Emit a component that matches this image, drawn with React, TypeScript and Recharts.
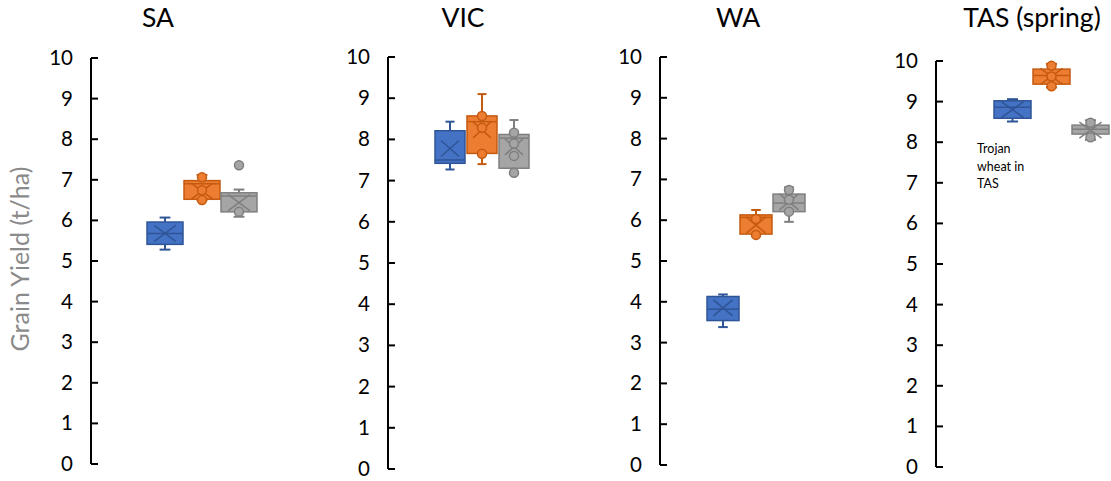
import { Bar, ComposedChart, XAxis, YAxis } from "recharts";

type Box = {
    low: number;
    q1: number;
    median: number;
    q3: number;
    high: number;
    mean: number;
    points: number[];
    outliers: number[];
};

// five-number summaries per region, one entry per cultivar (blue, orange, grey)
const saBoxes: Box[] = [
    { low: 5.28, q1: 5.41, median: 5.68, q3: 5.96, high: 6.07, mean: 5.68, points: [], outliers: [] },
    { low: 6.5, q1: 6.52, median: 6.9, q3: 6.98, high: 7.12, mean: 6.72, points: [6.5, 6.74, 7.06], outliers: [] },
    { low: 6.09, q1: 6.21, median: 6.6, q3: 6.68, high: 6.76, mean: 6.44, points: [6.21], outliers: [7.36] },
];

const vicBoxes: Box[] = [
    { low: 7.27, q1: 7.42, median: 7.5, q3: 8.21, high: 8.43, mean: 7.78, points: [], outliers: [] },
    { low: 7.4, q1: 7.66, median: 8.43, q3: 8.57, high: 9.1, mean: 8.23, points: [7.65, 8.28, 8.57], outliers: [] },
    { low: 7.19, q1: 7.3, median: 8.03, q3: 8.12, high: 8.47, mean: 7.82, points: [7.19, 7.6, 7.9, 8.16], outliers: [] },
];

const waBoxes: Box[] = [
    { low: 3.38, q1: 3.54, median: 3.82, q3: 4.13, high: 4.18, mean: 3.85, points: [], outliers: [] },
    { low: 5.64, q1: 5.66, median: 6.07, q3: 6.13, high: 6.25, mean: 5.88, points: [5.64, 6.03], outliers: [] },
    { low: 5.96, q1: 6.21, median: 6.42, q3: 6.64, high: 6.81, mean: 6.45, points: [6.21, 6.5, 6.74], outliers: [] },
];

const tasBoxes: Box[] = [
    { low: 8.51, q1: 8.59, median: 8.86, q3: 9.02, high: 9.06, mean: 8.8, points: [], outliers: [] },
    { low: 9.35, q1: 9.43, median: 9.64, q3: 9.8, high: 9.93, mean: 9.62, points: [9.38, 9.62, 9.88], outliers: [] },
    { low: 8.06, q1: 8.2, median: 8.32, q3: 8.42, high: 8.54, mean: 8.3, points: [8.12, 8.48], outliers: [] },
];

const yTicks = [0, 1, 2, 3, 4, 5, 6, 7, 8, 9, 10];
const noteLines = ["Trojan", "wheat in", "TAS"];

const FONT = "Lato, 'Open Sans', sans-serif";
const TICK_MARGIN = 18;

const SERIES = [
    { key: "s0", fill: "#4472C4", stroke: "#2F5597" },
    { key: "s1", fill: "#ED7D31", stroke: "#C55A11" },
    { key: "s2", fill: "#A5A5A5", stroke: "#7F7F7F" },
];

const panels = [
    { title: "SA", boxes: saBoxes, axisX: 91, right: 313, top: 58, bottom: 464, barSize: 36, barGap: 1, titleX: 158 },
    { title: "VIC", boxes: vicBoxes, axisX: 388, right: 576, top: 57, bottom: 469, barSize: 30, barGap: 2, titleX: 463 },
    { title: "WA", boxes: waBoxes, axisX: 660, right: 852, top: 57, bottom: 465, barSize: 32, barGap: 1, titleX: 738 },
    { title: "TAS (spring)", boxes: tasBoxes, axisX: 936, right: 1166, top: 61, bottom: 467, barSize: 37, barGap: 2, titleX: 1032 },
];

const AXIS_W = 60;
const H = 481;

const AxisTick = ({ x, y, payload }: any) => (
    <g>
        <line x1={x + TICK_MARGIN} x2={x + TICK_MARGIN + 7} y1={y} y2={y} stroke="#000" strokeWidth={2} />
        <text x={x} y={y} dy={7} textAnchor="end" fontSize={20.5} fontFamily={FONT} fill="#000">
            {payload.value}
        </text>
    </g>
);

// q1..q3 come in as a range bar; the rest is placed with the same linear mapping
const BoxShape = (props: any) => {
    const { x, y, width, height, box, fill, stroke } = props;
    const b: Box = box;
    const top = Math.min(y, y + height);
    const h = Math.abs(height);
    const k = h / (b.q3 - b.q1);
    const py = (v: number) => top + (b.q3 - v) * k;
    const cx = x + width / 2;
    const cap = width * 0.15;
    const dx = width * 0.3;
    const dy = 8;
    const my = py(b.mean);
    return (
        <g>
            <line x1={cx} x2={cx} y1={py(b.high)} y2={py(b.q3)} stroke={stroke} strokeWidth={2} />
            <line x1={cx} x2={cx} y1={py(b.q1)} y2={py(b.low)} stroke={stroke} strokeWidth={2} />
            <line x1={cx - cap} x2={cx + cap} y1={py(b.high)} y2={py(b.high)} stroke={stroke} strokeWidth={2} />
            <line x1={cx - cap} x2={cx + cap} y1={py(b.low)} y2={py(b.low)} stroke={stroke} strokeWidth={2} />
            <rect x={x} y={top} width={width} height={h} fill={fill} stroke={stroke} strokeWidth={1.5} />
            <line x1={x} x2={x + width} y1={py(b.median)} y2={py(b.median)} stroke={stroke} strokeWidth={1.5} />
            <line x1={cx - dx} x2={cx + dx} y1={my - dy} y2={my + dy} stroke={stroke} strokeWidth={1.5} />
            <line x1={cx - dx} x2={cx + dx} y1={my + dy} y2={my - dy} stroke={stroke} strokeWidth={1.5} />
            {b.points.concat(b.outliers).map((v, i) => (
                <circle key={i} cx={cx} cy={py(v)} r={4.5} fill={fill} stroke={stroke} strokeWidth={1.5} />
            ))}
        </g>
    );
};

const Panel = ({ panel }: any) => {
    const row: any = { name: panel.title };
    SERIES.forEach((s, i) => {
        row[s.key] = [panel.boxes[i].q1, panel.boxes[i].q3];
    });
    const width = AXIS_W + panel.right - panel.axisX;
    return (
        <div style={{ position: "absolute", left: panel.axisX - AXIS_W, top: 0 }}>
            <ComposedChart
                width={width}
                height={H}
                data={[row]}
                barGap={panel.barGap}
                margin={{ top: panel.top, right: 0, bottom: H - panel.bottom, left: 0 }}
            >
                <XAxis dataKey="name" hide />
                <YAxis
                    width={AXIS_W}
                    domain={[0, 10]}
                    ticks={yTicks}
                    interval={0}
                    tickSize={0}
                    tickMargin={TICK_MARGIN}
                    tick={<AxisTick />}
                    axisLine={{ stroke: "#000", strokeWidth: 2 }}
                />
                {SERIES.map((s, i) => (
                    <Bar
                        key={s.key}
                        dataKey={s.key}
                        barSize={panel.barSize}
                        isAnimationActive={false}
                        shape={(p: any) => <BoxShape {...p} box={panel.boxes[i]} fill={s.fill} stroke={s.stroke} />}
                    />
                ))}
            </ComposedChart>
        </div>
    );
};

export default function App() {
    return (
        <div
            style={{
                position: "absolute",
                left: 0,
                top: 0,
                width: 1111,
                height: H,
                overflow: "hidden",
                background: "#fff",
                fontFamily: FONT,
            }}
        >
            {panels.map((p) => (
                <Panel key={p.title} panel={p} />
            ))}
            <svg width={1111} height={H} style={{ position: "absolute", left: 0, top: 0, pointerEvents: "none" }}>
                {panels.map((p) => (
                    <text key={p.title} x={p.titleX} y={27} textAnchor="middle" fontSize={26.5} fontFamily={FONT} fill="#000">
                        {p.title}
                    </text>
                ))}
                <text
                    x={19}
                    y={259}
                    transform="rotate(-90 19 259)"
                    textAnchor="middle"
                    dominantBaseline="central"
                    fontSize={25}
                    fontFamily={FONT}
                    fill="#8a8a8a"
                >
                    Grain Yield (t/ha)
                </text>
                {noteLines.map((t, i) => (
                    <text key={t} x={977} y={153 + i * 17.5} fontSize={12.5} fontFamily={FONT} fill="#000">
                        {t}
                    </text>
                ))}
            </svg>
        </div>
    );
}
